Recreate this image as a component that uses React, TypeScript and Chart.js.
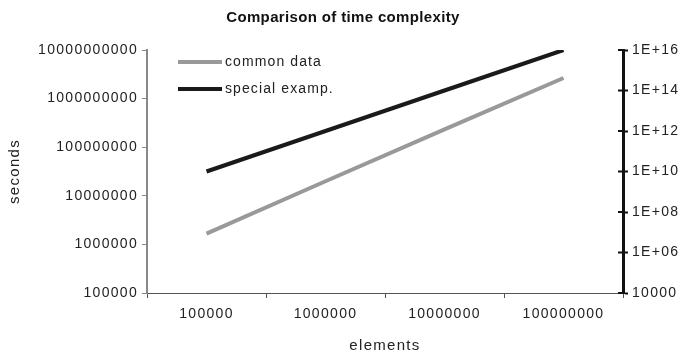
import React, { useEffect, useRef } from "react";
import { Chart, registerables } from "chart.js";

Chart.register(...registerables);

const categories = ["100000", "1000000", "10000000", "100000000"];
const commonData = [1660964, 19931569, 232534967, 2657542476];
const specialData = [1e10, 1e12, 1e14, 1e16];
const leftTicks = [1e5, 1e6, 1e7, 1e8, 1e9, 1e10];
const rightTicks = [1e4, 1e6, 1e8, 1e10, 1e12, 1e14, 1e16];
const rightTickLabels = ["10000", "1E+06", "1E+08", "1E+10", "1E+12", "1E+14", "1E+16"];
const titleText = "Comparison of time complexity";

const FONT = "'Liberation Sans', Arial, sans-serif";

const spacingPlugin = {
  id: "spacing",
  beforeDraw(chart: any) {
    chart.ctx.letterSpacing = "1.3px";
  },
  afterDraw(chart: any) {
    chart.ctx.letterSpacing = "0px";
  },
};

const crossTickPlugin = {
  id: "crossTicks",
  afterDraw(chart: any) {
    const ctx = chart.ctx;
    const scale = chart.scales.y2;
    const area = chart.chartArea;
    ctx.save();
    ctx.strokeStyle = "#111";
    ctx.lineWidth = 2;
    scale.ticks.forEach((t: any) => {
      const y = scale.getPixelForValue(t.value);
      ctx.beginPath();
      ctx.moveTo(area.right - 5, y);
      ctx.lineTo(area.right, y);
      ctx.stroke();
    });
    ctx.restore();
  },
};

const titlePlugin = {
  id: "customTitle",
  afterDraw(chart: any) {
    const ctx = chart.ctx;
    ctx.save();
    ctx.letterSpacing = "0.35px";
    ctx.font = `bold 15px ${FONT}`;
    ctx.fillStyle = "#111";
    ctx.textAlign = "center";
    ctx.textBaseline = "middle";
    ctx.fillText(titleText, chart.width / 2, 18);
    ctx.restore();
  },
};

const legendPlugin = {
  id: "insideLegend",
  afterDatasetsDraw(chart: any) {
    const ctx = chart.ctx;
    const area = chart.chartArea;
    ctx.save();
    ctx.letterSpacing = "1.1px";
    ctx.font = `14px ${FONT}`;
    ctx.textBaseline = "middle";
    ctx.textAlign = "left";
    chart.data.datasets.forEach((ds: any, i: number) => {
      const y = area.top + 12 + i * 27;
      const x0 = area.left + 31;
      ctx.strokeStyle = ds.borderColor;
      ctx.lineWidth = 4;
      ctx.beginPath();
      ctx.moveTo(x0, y);
      ctx.lineTo(x0 + 44, y);
      ctx.stroke();
      ctx.fillStyle = "#222";
      ctx.fillText(ds.label, x0 + 47, y);
    });
    ctx.restore();
  },
};

export default function App() {
  const ref = useRef<HTMLCanvasElement | null>(null);
  useEffect(() => {
    if (!ref.current) return;
    const chart = new Chart(ref.current, {
      type: "line",
      data: {
        labels: categories,
        datasets: [
          {
            label: "common data",
            data: commonData,
            borderColor: "#999999",
            backgroundColor: "#999999",
            borderWidth: 4,
            pointRadius: 0,
            yAxisID: "y",
          },
          {
            label: "special examp.",
            data: specialData,
            borderColor: "#1a1a1a",
            backgroundColor: "#1a1a1a",
            borderWidth: 4,
            pointRadius: 0,
            yAxisID: "y2",
          },
        ],
      },
      options: {
        responsive: false,
        animation: false,
        layout: { padding: { top: 50, left: 0, right: 0, bottom: 0 } },
        plugins: {
          legend: { display: false },
          title: { display: false },
          tooltip: { enabled: false },
        },
        scales: {
          x: {
            type: "category",
            offset: true,
            grid: {
              offset: true,
              drawOnChartArea: false,
              drawTicks: true,
              tickLength: 5,
              tickColor: "#555",
            },
            border: { color: "#555", width: 1 },
            ticks: { font: { family: FONT, size: 14 }, color: "#222", padding: 8, maxRotation: 0 },
            title: {
              display: true,
              text: "elements",
              font: { family: FONT, size: 15 },
              color: "#222",
              padding: { top: 0, bottom: 1 },
            },
            afterFit(scale: any) {
              scale.height = 63;
            },
          },
          y: {
            type: "logarithmic",
            position: "left",
            min: 1e5,
            max: 1e10,
            grid: {
              drawOnChartArea: false,
              tickLength: 5,
              tickColor: "#888",
            },
            border: { color: "#888", width: 2 },
            afterBuildTicks(scale: any) {
              scale.ticks = leftTicks.map((v) => ({ value: v }));
            },
            ticks: {
              font: { family: FONT, size: 14 },
              color: "#222",
              padding: 4,
              callback: (v: any) => String(Math.round(Number(v))),
            },
            title: {
              display: true,
              text: "seconds",
              font: { family: FONT, size: 15 },
              color: "#222",
              padding: { top: 6, bottom: 0 },
            },
            afterFit(scale: any) {
              scale.width = 147;
            },
          },
          y2: {
            type: "logarithmic",
            position: "right",
            min: 1e4,
            max: 1e16,
            grid: {
              drawOnChartArea: false,
              tickLength: 5,
              tickColor: "#111",
              tickWidth: 2,
            },
            border: { color: "#111", width: 3 },
            afterBuildTicks(scale: any) {
              scale.ticks = rightTicks.map((v) => ({ value: v }));
            },
            ticks: {
              font: { family: FONT, size: 14 },
              color: "#222",
              padding: 4,
              callback: (v: any) => {
                const idx = rightTicks.findIndex((t) => Math.abs(Math.log10(t) - Math.log10(Number(v))) < 1e-6);
                return idx >= 0 ? rightTickLabels[idx] : "";
              },
            },
            afterFit(scale: any) {
              scale.width = 63;
            },
          },
        },
      },
      plugins: [spacingPlugin, crossTickPlugin, titlePlugin, legendPlugin],
    } as any);
    return () => chart.destroy();
  }, []);
  return (
    <div style={{ position: "fixed", left: 0, top: 0, width: 686, height: 356, background: "#fff" }}>
      <canvas ref={ref} width={686} height={356} style={{ width: 686, height: 356 }} />
    </div>
  );
}
